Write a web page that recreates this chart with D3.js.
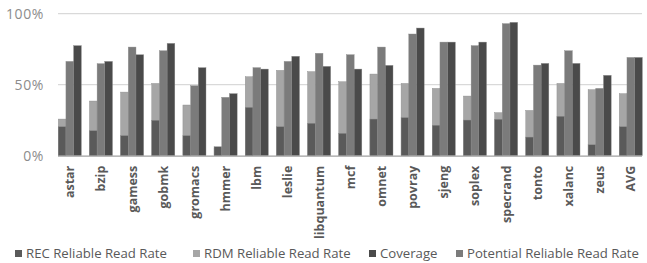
<!DOCTYPE html>
<html><head><meta charset="utf-8">
<script src="https://cdn.jsdelivr.net/npm/d3@7"></script>
<style>body{margin:0;background:#fff}svg{display:block}</style>
</head><body>
<script>
const categories = ["astar","bzip","gamess","gobmk","gromacs","hmmer","lbm","leslie","libquantum","mcf","omnet","povray","sjeng","soplex","specrand","tonto","xalanc","zeus","AVG"];
const recRate = [20.4,17.6,14.1,24.9,14.1,6.3,34,20.4,22.8,15.7,25.8,26.8,21.4,25.1,25.6,13.1,27.7,7.7,20.4];
const rdmRate = [25.8,38.5,44.8,50.9,35.7,5.5,55.6,60.1,59.2,52.1,57.5,50.9,47.4,42,30.3,31.9,50.9,46.5,43.7];
const coverage = [77.5,66.4,71.1,79.1,62,43.7,61,70,62.9,61,63.6,89.9,80,80,93.9,65,65,56.6,69.2];
const potential = [66.4,64.8,76.5,73.9,49.3,41.1,62,66.4,72.1,71.1,76.5,85.7,80,77.5,93,63.8,73.9,47.4,69.2];
const yTicks = [0,50,100];
const seriesNames = ["REC Reliable Read Rate","RDM Reliable Read Rate","Coverage","Potential Reliable Read Rate"];
const colors = {rec:"#5a5a5a", rdm:"#a6a6a6", cov:"#4a4a4a", pot:"#7b7b7b"};

const W=647,H=263;
const svg=d3.select("body").append("svg").attr("width",W).attr("height",H);
const y=d3.scaleLinear().domain([0,100]).range([155.7,13.7]);
const x=d3.scaleBand().domain(categories).range([54.2,646.4]).paddingInner(0.26).paddingOuter(0.13);
const bw=x.bandwidth()/3;

// gridlines
svg.append("g").selectAll("line").data(yTicks.filter(d=>d>0)).join("line")
  .attr("x1",58).attr("x2",642).attr("y1",d=>y(d)).attr("y2",d=>y(d))
  .attr("stroke","#d9d9d9").attr("stroke-width",1.2);

// y axis labels
const yAxis=d3.axisLeft(y).tickValues(yTicks).tickFormat(d=>d+"%").tickSize(0).tickPadding(0);
const ya=svg.append("g").attr("transform","translate(44,0)").call(yAxis);
ya.select(".domain").remove();
ya.selectAll("text").attr("font-family","Open Sans, sans-serif").attr("font-size",14).attr("fill","#8c8c8c")
  .attr("letter-spacing",0.6);

const g=svg.append("g");
const bar=(data,off,col)=>g.append("g").selectAll("rect").data(categories).join("rect")
  .attr("x",(d)=>x(d)+off*bw).attr("width",bw)
  .attr("y",(d,i)=>y(data[i])).attr("height",(d,i)=>y(0)-y(data[i]))
  .attr("fill",col).attr("stroke","#8a8a8a").attr("stroke-width",0.4);
bar(rdmRate,0,colors.rdm);
bar(recRate,0,colors.rec);
bar(potential,1,colors.pot);
bar(coverage,2,colors.cov);

// baseline
svg.append("line").attr("x1",58).attr("x2",642).attr("y1",y(0)+0.5).attr("y2",y(0)+0.5)
  .attr("stroke","#a0a0a0").attr("stroke-width",1.3);

// x labels
const xAxis=d3.axisBottom(x).tickSize(0).tickPadding(0);
const xa=svg.append("g").attr("transform",`translate(0,${y(0)})`).call(xAxis);
xa.select(".domain").remove();
xa.selectAll("text").attr("font-family","Open Sans, sans-serif").attr("font-size",12.5).attr("font-weight","bold")
  .attr("fill","#595959").attr("text-anchor","end").attr("dy",null).attr("y",0)
  .attr("transform","translate(4.5,10) rotate(-90)");

// legend
const legX=[15,193,369,456];
const legCols=[colors.rec,colors.rdm,colors.cov,colors.pot];
const lg=svg.append("g").selectAll("g").data(seriesNames).join("g")
  .attr("transform",(d,i)=>`translate(${legX[i]},250)`);
lg.append("rect").attr("width",7).attr("height",7).attr("y",0).attr("fill",(d,i)=>legCols[i]);
lg.append("text").attr("x",11).attr("y",8).text(d=>d)
  .attr("font-family","Open Sans, sans-serif").attr("font-size",13.2).attr("fill","#595959");
</script>
</body></html>
